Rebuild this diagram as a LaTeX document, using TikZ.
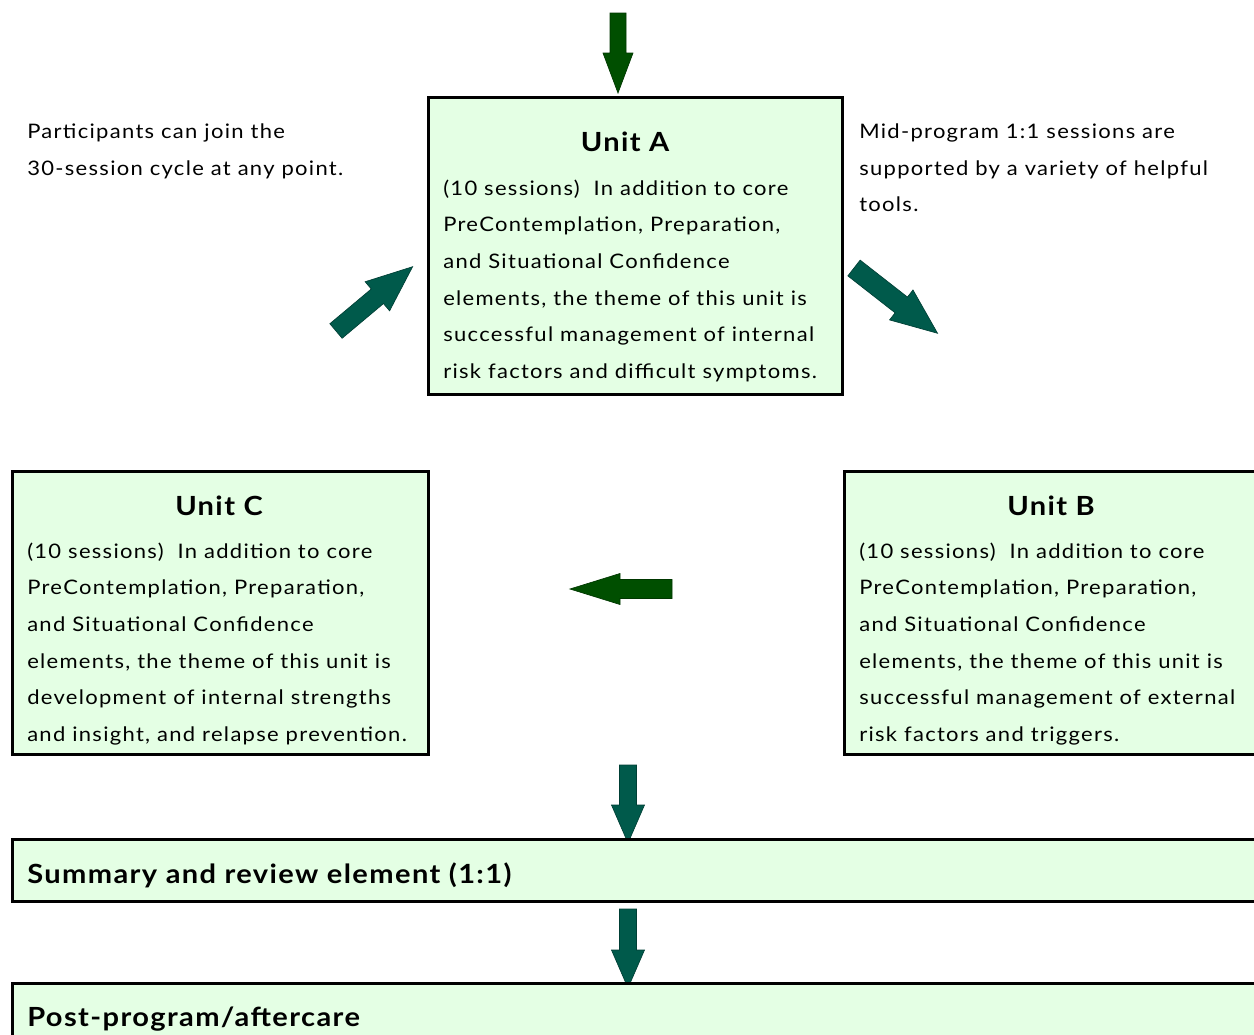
\documentclass[tikz,border=0pt]{standalone}
\usepackage{fontspec}
\setmainfont{Lato}[FakeStretch=1.1,LetterSpace=6.5,BoldFeatures={LetterSpace=5.3}]
\usetikzlibrary{positioning}
\definecolor{boxfill}{HTML}{E4FFE4}
\definecolor{leafgreen}{HTML}{004F00}
\definecolor{tealgreen}{HTML}{005A4B}
\tikzset{
  unitbox/.style={draw=black,line width=2.25pt,fill=boxfill,inner sep=0pt,anchor=north west},
  unittitle/.style={font=\fontsize{19.8}{22}\selectfont\bfseries,anchor=base,inner sep=0pt},
  bodytext/.style={font=\fontsize{15}{27.45}\selectfont,align=left,anchor=north west,inner sep=0pt},
  bartext/.style={font=\fontsize{19.8}{22}\selectfont\bfseries,anchor=west,inner sep=0pt},
  pics/blockarrow/.style n args={4}{code={
    \filldraw[line width=0.5pt] (0,-#2) -- (#1-#4,-#2) -- (#1-#4,-#3) -- (#1,0)
      -- (#1-#4,#3) -- (#1-#4,#2) -- (0,#2) -- cycle;}},
  greenarrow/.style={fill=leafgreen,draw=leafgreen!70!black},
  tealarrow/.style={fill=tealgreen,draw=tealgreen!70!black}
}
\begin{document}
\begin{tikzpicture}[x=0.75pt,y=-0.75pt]
  \useasboundingbox (0,0) rectangle (1254,1035);
  % arrows into and round the cycle
  \pic[greenarrow,rotate=-90] (arrowin) at (618,13) {blockarrow={80}{8}{15}{40}};
  \pic[tealarrow,rotate=40] (arrowca) at (336,331) {blockarrow={100}{9.5}{19}{46}};
  \pic[tealarrow,rotate=-38] (arrowab) at (854,268) {blockarrow={106}{10}{19}{46}};
  \pic[greenarrow,rotate=180] (arrowbc) at (672,589) {blockarrow={102}{9.5}{15.5}{50}};
  \pic[tealarrow,rotate=-90] (arrowsum) at (628,765) {blockarrow={78}{8.5}{16.5}{38}};
  \pic[tealarrow,rotate=-90] (arrowpost) at (628,909) {blockarrow={79}{8.5}{16.5}{38}};

  % unit A
  \node[unitbox,minimum width=310.5pt,minimum height=222.75pt] (unitA) at (427,96) {};
  \node[unittitle] (titleA) at (625,151) {Unit A};
  \node[bodytext] (bodyA) at (443,179.5) {(10 sessions)\ \ In addition to core\\
    PreContemplation, Preparation,\\
    and Situational Confidence\\
    elements, the theme of this unit is\\
    successful management of internal\\
    risk factors and difficult symptoms.};

  % unit C
  \node[unitbox,minimum width=312pt,minimum height=212.25pt] (unitC) at (11,470) {};
  \node[unittitle] (titleC) at (219,515) {Unit C};
  \node[bodytext] (bodyC) at (27,542.5) {(10 sessions)\ \ In addition to core\\
    PreContemplation, Preparation,\\
    and Situational Confidence\\
    elements, the theme of this unit is\\
    development of internal strengths\\
    and insight, and relapse prevention.};

  % unit B
  \node[unitbox,minimum width=312.75pt,minimum height=212.25pt] (unitB) at (843,470) {};
  \node[unittitle] (titleB) at (1051,515) {Unit B};
  \node[bodytext] (bodyB) at (859,542.5) {(10 sessions)\ \ In addition to core\\
    PreContemplation, Preparation,\\
    and Situational Confidence\\
    elements, the theme of this unit is\\
    successful management of external\\
    risk factors and triggers.};

  % notes beside unit A
  \node[bodytext] (joinnote) at (27,123.5) {Participants can join the\\
    30-session cycle at any point.};
  \node[bodytext] (toolnote) at (859,123.5) {Mid-program 1:1 sessions are\\
    supported by a variety of helpful\\
    tools.};

  % closing elements
  \node[unitbox,minimum width=936.75pt,minimum height=46.5pt] (summary) at (11,838) {};
  \node[bartext] (summarytext) at (27,875) {Summary and review element (1:1)};
  \node[unitbox,minimum width=936.75pt,minimum height=60pt] (post) at (11,982) {};
  \node[bartext] (posttext) at (27,1019) {Post-program/aftercare};
\end{tikzpicture}
\end{document}
